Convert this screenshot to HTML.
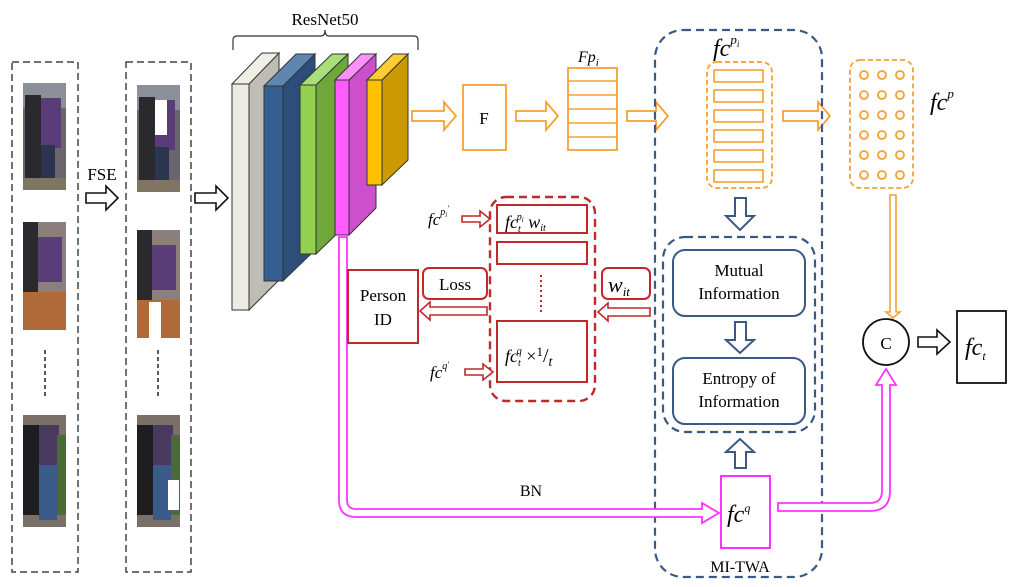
<!DOCTYPE html>
<html><head><meta charset="utf-8"><style>
body{margin:0;background:#fff}
svg{display:block}
text{font-family:"Liberation Serif",serif}
</style></head><body>
<svg width="1017" height="587" viewBox="0 0 1017 587" xmlns="http://www.w3.org/2000/svg">
<defs>
<g id="photoA">
<rect x="0" y="0" width="43" height="107" fill="#6b6570"/>
<rect x="0" y="0" width="43" height="25" fill="#8a8f9a"/>
<rect x="2" y="12" width="16" height="85" fill="#2a2a2e"/>
<rect x="18" y="15" width="20" height="50" fill="#5a3d78"/>
<rect x="18" y="62" width="14" height="38" fill="#2c3550"/>
<rect x="0" y="95" width="43" height="12" fill="#7f7562"/>
</g>
<g id="photoB">
<rect x="0" y="0" width="43" height="108" fill="#8a7f7a"/>
<rect x="0" y="0" width="15" height="70" fill="#2a2a2e"/>
<rect x="15" y="15" width="24" height="45" fill="#5a3d78"/>
<rect x="0" y="70" width="43" height="38" fill="#b06a3a"/>
</g>
<g id="photoC">
<rect x="0" y="0" width="43" height="112" fill="#7a7068"/>
<rect x="0" y="10" width="16" height="90" fill="#1e1e22"/>
<rect x="16" y="10" width="20" height="40" fill="#4a3a60"/>
<rect x="16" y="50" width="18" height="55" fill="#3a5a8a"/>
<rect x="34" y="20" width="9" height="80" fill="#4a6a3a"/>
</g>
</defs>

<rect x="12" y="62" width="66" height="510" fill="none" stroke="#444" stroke-width="1.5" stroke-dasharray="7,4"/>
<rect x="126" y="62" width="65" height="510" fill="none" stroke="#444" stroke-width="1.5" stroke-dasharray="7,4"/>
<use href="#photoA" x="23" y="83"/>
<use href="#photoB" x="23" y="222"/>
<use href="#photoC" x="23" y="415"/>
<use href="#photoA" x="137" y="85"/>
<rect x="155" y="100" width="12" height="35" fill="#fff"/>
<use href="#photoB" x="137" y="230"/>
<rect x="149" y="302" width="12" height="36" fill="#fff"/>
<use href="#photoC" x="137" y="415"/>
<rect x="168" y="480" width="11" height="30" fill="#fff"/>
<line x1="45" y1="350" x2="45" y2="398" stroke="#222" stroke-width="1.5" stroke-dasharray="4,3"/>
<line x1="158" y1="350" x2="158" y2="398" stroke="#222" stroke-width="1.5" stroke-dasharray="4,3"/>

<text x="102" y="180" font-size="17" text-anchor="middle">FSE</text>
<polygon points="86,193 106,193 106,186 118,198 106,210 106,203 86,203" fill="#fff" stroke="#111" stroke-width="1.6"/>
<polygon points="195,193 216,193 216,186 228,198 216,210 216,203 195,203" fill="#fff" stroke="#111" stroke-width="1.6"/>

<text x="325" y="25" font-size="17" text-anchor="middle">ResNet50</text>
<path d="M233,50 V40 Q233,36 237,36 H321 Q325,36 325,30 Q325,36 329,36 H414 Q418,36 418,40 V50" fill="none" stroke="#333" stroke-width="1.2"/>
<g stroke="#333" stroke-width="1">
<polygon points="249,84 279,53 279,280 249,310" fill="#bdbdb5"/>
<polygon points="232,84 262,53 279,53 249,84" fill="#efefe6"/>
<rect x="232" y="84" width="17" height="226" fill="#ecece2"/>
<polygon points="283,86 315,54 315,250 283,281" fill="#2d4e78"/>
<polygon points="264,86 296,54 315,54 283,86" fill="#5e86b0"/>
<rect x="264" y="86" width="19" height="195" fill="#355f91"/>
<polygon points="316,85 348,54 348,223 316,254" fill="#6fa73a"/>
<polygon points="300,85 332,54 348,54 316,85" fill="#a8df78"/>
<rect x="300" y="85" width="16" height="169" fill="#92d050"/>
<polygon points="349,80 376,54 376,208 349,235" fill="#cc4fcc"/>
<polygon points="335,80 361,54 376,54 349,80" fill="#ff90ff"/>
<rect x="335" y="80" width="14" height="155" fill="#ff5bff"/>
<polygon points="382,80 408,54 408,160 382,185" fill="#cc9900"/>
<polygon points="367,80 393,54 408,54 382,80" fill="#ffcc33"/>
<rect x="367" y="80" width="15" height="105" fill="#ffc000"/>
</g>

<g fill="#fff" stroke="#f5a030" stroke-width="1.8">
<polygon points="412,111 444,111 444,102 456,116 444,130 444,121 412,121"/>
<rect x="463" y="85" width="43" height="65"/>
<polygon points="516,111 546,111 546,102 558,116 546,130 546,121 516,121"/>
<rect x="568" y="68" width="49" height="82"/>
<polygon points="627,111 656,111 656,102 668,116 656,130 656,121 627,121"/>
<polygon points="783,111 818,111 818,102 830,116 818,130 818,121 783,121"/>
</g>
<g stroke="#f5a030" stroke-width="1.5">
<line x1="568" y1="81" x2="617" y2="81"/><line x1="568" y1="95" x2="617" y2="95"/>
<line x1="568" y1="109" x2="617" y2="109"/><line x1="568" y1="123" x2="617" y2="123"/>
<line x1="568" y1="137" x2="617" y2="137"/>
</g>
<text x="484" y="124" font-size="17" text-anchor="middle">F</text>
<text x="578" y="62" font-size="16" font-style="italic">Fp<tspan font-size="11" dy="4">i</tspan></text>

<rect x="655" y="30" width="167" height="547" rx="28" fill="none" stroke="#3a5a85" stroke-width="2.2" stroke-dasharray="8,5"/>
<text x="713" y="56" font-size="24" font-style="italic">fc<tspan font-size="13" dy="-12">p</tspan><tspan font-size="9" dy="3">i</tspan></text>
<rect x="707" y="62" width="65" height="126" rx="10" fill="none" stroke="#f5a030" stroke-width="1.8" stroke-dasharray="5,3"/>
<g fill="none" stroke="#f5a030" stroke-width="1.6">
<rect x="714" y="70" width="49" height="12"/><rect x="714" y="90" width="49" height="12"/>
<rect x="714" y="110" width="49" height="12"/><rect x="714" y="130" width="49" height="12"/>
<rect x="714" y="150" width="49" height="12"/><rect x="714" y="170" width="49" height="12"/>
</g>
<g fill="#fff" stroke="#3a5a85" stroke-width="2">
<polygon points="735,198 746,198 746,216 754,216 740,230 726,216 735,216"/>
<polygon points="735,322 746,322 746,340 754,340 740,353 726,340 735,340"/>
<polygon points="735,468 746,468 746,452 754,452 740,439 726,452 735,452"/>
</g>
<rect x="663" y="237" width="152" height="195" rx="22" fill="none" stroke="#3a5a85" stroke-width="2.2" stroke-dasharray="8,5"/>
<rect x="673" y="250" width="132" height="66" rx="12" fill="none" stroke="#3a5a85" stroke-width="2"/>
<rect x="673" y="358" width="132" height="66" rx="12" fill="none" stroke="#3a5a85" stroke-width="2"/>
<text x="739" y="276" font-size="17" text-anchor="middle">Mutual</text>
<text x="739" y="299" font-size="17" text-anchor="middle">Information</text>
<text x="739" y="384" font-size="17" text-anchor="middle">Entropy of</text>
<text x="739" y="407" font-size="17" text-anchor="middle">Information</text>
<rect x="721" y="476" width="49" height="72" fill="#fff" stroke="#ff33ff" stroke-width="2"/>
<text x="727" y="522" font-size="24" font-style="italic">fc<tspan font-size="12" dy="-10">q</tspan></text>
<text x="740" y="572" font-size="16" text-anchor="middle">MI-TWA</text>

<rect x="850" y="60" width="63" height="128" rx="10" fill="none" stroke="#f5a030" stroke-width="1.8" stroke-dasharray="5,3"/>
<g fill="none" stroke="#f5a030" stroke-width="1.8">
<circle cx="864" cy="75" r="4"/><circle cx="882" cy="75" r="4"/><circle cx="900" cy="75" r="4"/>
<circle cx="864" cy="95" r="4"/><circle cx="882" cy="95" r="4"/><circle cx="900" cy="95" r="4"/>
<circle cx="864" cy="115" r="4"/><circle cx="882" cy="115" r="4"/><circle cx="900" cy="115" r="4"/>
<circle cx="864" cy="135" r="4"/><circle cx="882" cy="135" r="4"/><circle cx="900" cy="135" r="4"/>
<circle cx="864" cy="155" r="4"/><circle cx="882" cy="155" r="4"/><circle cx="900" cy="155" r="4"/>
<circle cx="864" cy="175" r="4"/><circle cx="882" cy="175" r="4"/><circle cx="900" cy="175" r="4"/>
</g>
<text x="930" y="110" font-size="24" font-style="italic">fc<tspan font-size="13" dy="-12">p</tspan></text>
<polygon points="890,195 896,195 896,312 900,312 893,318 886,312 890,312" fill="#fff" stroke="#f5a030" stroke-width="1.6"/>

<circle cx="886" cy="342" r="23" fill="#fff" stroke="#111" stroke-width="1.8"/>
<text x="886" y="349" font-size="17" text-anchor="middle">C</text>
<polygon points="918,337 937,337 937,330 950,342 937,354 937,347 918,347" fill="#fff" stroke="#111" stroke-width="1.6"/>
<rect x="957" y="311" width="49" height="72" fill="#fff" stroke="#111" stroke-width="1.8"/>
<text x="965" y="355" font-size="24" font-style="italic">fc<tspan font-size="12" dy="5">t</tspan></text>

<path d="M339,237 V500 Q339,517 356,517 H702 V523 L719,513 L702,503 V509 H356 Q347,509 347,500 V237 Z" fill="#fff" stroke="#ff33ff" stroke-width="1.8"/>
<path d="M778,503 H870 Q882,503 882,491 V385 H876 L886,369 L896,385 H890 V491 Q890,511 870,511 H778 Z" fill="#fff" stroke="#ff33ff" stroke-width="1.8"/>
<text x="531" y="496" font-size="16" text-anchor="middle">BN</text>

<rect x="490" y="197" width="105" height="204" rx="16" fill="none" stroke="#c0282a" stroke-width="2.4" stroke-dasharray="8,5"/>
<g fill="#fff" stroke="#c0282a" stroke-width="2">
<rect x="497" y="205" width="90" height="28"/>
<rect x="497" y="242" width="90" height="22"/>
<rect x="497" y="321" width="90" height="61"/>
<rect x="348" y="270" width="70" height="73"/>
<rect x="423" y="268" width="64" height="31" rx="6"/>
<rect x="602" y="268" width="48" height="31" rx="6"/>
</g>
<line x1="541" y1="275" x2="541" y2="312" stroke="#c0282a" stroke-width="2" stroke-dasharray="2,3"/>
<g fill="#fff" stroke="#c0282a" stroke-width="1.6">
<polygon points="462,216 480,216 480,211 490,219 480,227 480,222 462,222"/>
<polygon points="465,369 483,369 483,364 493,372 483,380 483,375 465,375"/>
<polygon points="487,307 430,307 430,302 420,311 430,320 430,315 487,315"/>
<polygon points="650,308 608,308 608,303 598,312 608,321 608,316 650,316"/>
</g>
<text x="383" y="301" font-size="17" text-anchor="middle">Person</text>
<text x="383" y="325" font-size="17" text-anchor="middle">ID</text>
<text x="455" y="290" font-size="17" text-anchor="middle">Loss</text>
<text x="608" y="292" font-size="22" font-style="italic">w<tspan font-size="13" dy="4">it</tspan></text>
<text x="505" y="228" font-size="18" font-style="italic">fc<tspan font-size="10" dy="4">t</tspan><tspan font-size="10" dx="-4" dy="-12">p</tspan><tspan font-size="7" dy="2">i</tspan><tspan font-size="18" dy="6"> w</tspan><tspan font-size="10" dy="3">it</tspan></text>
<text x="505" y="362" font-size="18" font-style="italic">fc<tspan font-size="10" dy="4">t</tspan><tspan font-size="10" dx="-4" dy="-12">q</tspan><tspan font-size="18" dy="8" font-style="normal"> ×</tspan><tspan font-size="13" font-style="normal" dy="-6">1</tspan><tspan font-size="20" font-style="normal" dy="6">/</tspan><tspan font-size="14" dy="4">t</tspan></text>
<text x="428" y="225" font-size="17" font-style="italic">fc<tspan font-size="10" dy="-10">p</tspan><tspan font-size="7" dy="2">i</tspan><tspan font-size="8" dy="-6">'</tspan></text>
<text x="430" y="378" font-size="17" font-style="italic">fc<tspan font-size="10" dy="-9">q</tspan><tspan font-size="8" dy="-2">'</tspan></text>
</svg>
</body></html>
